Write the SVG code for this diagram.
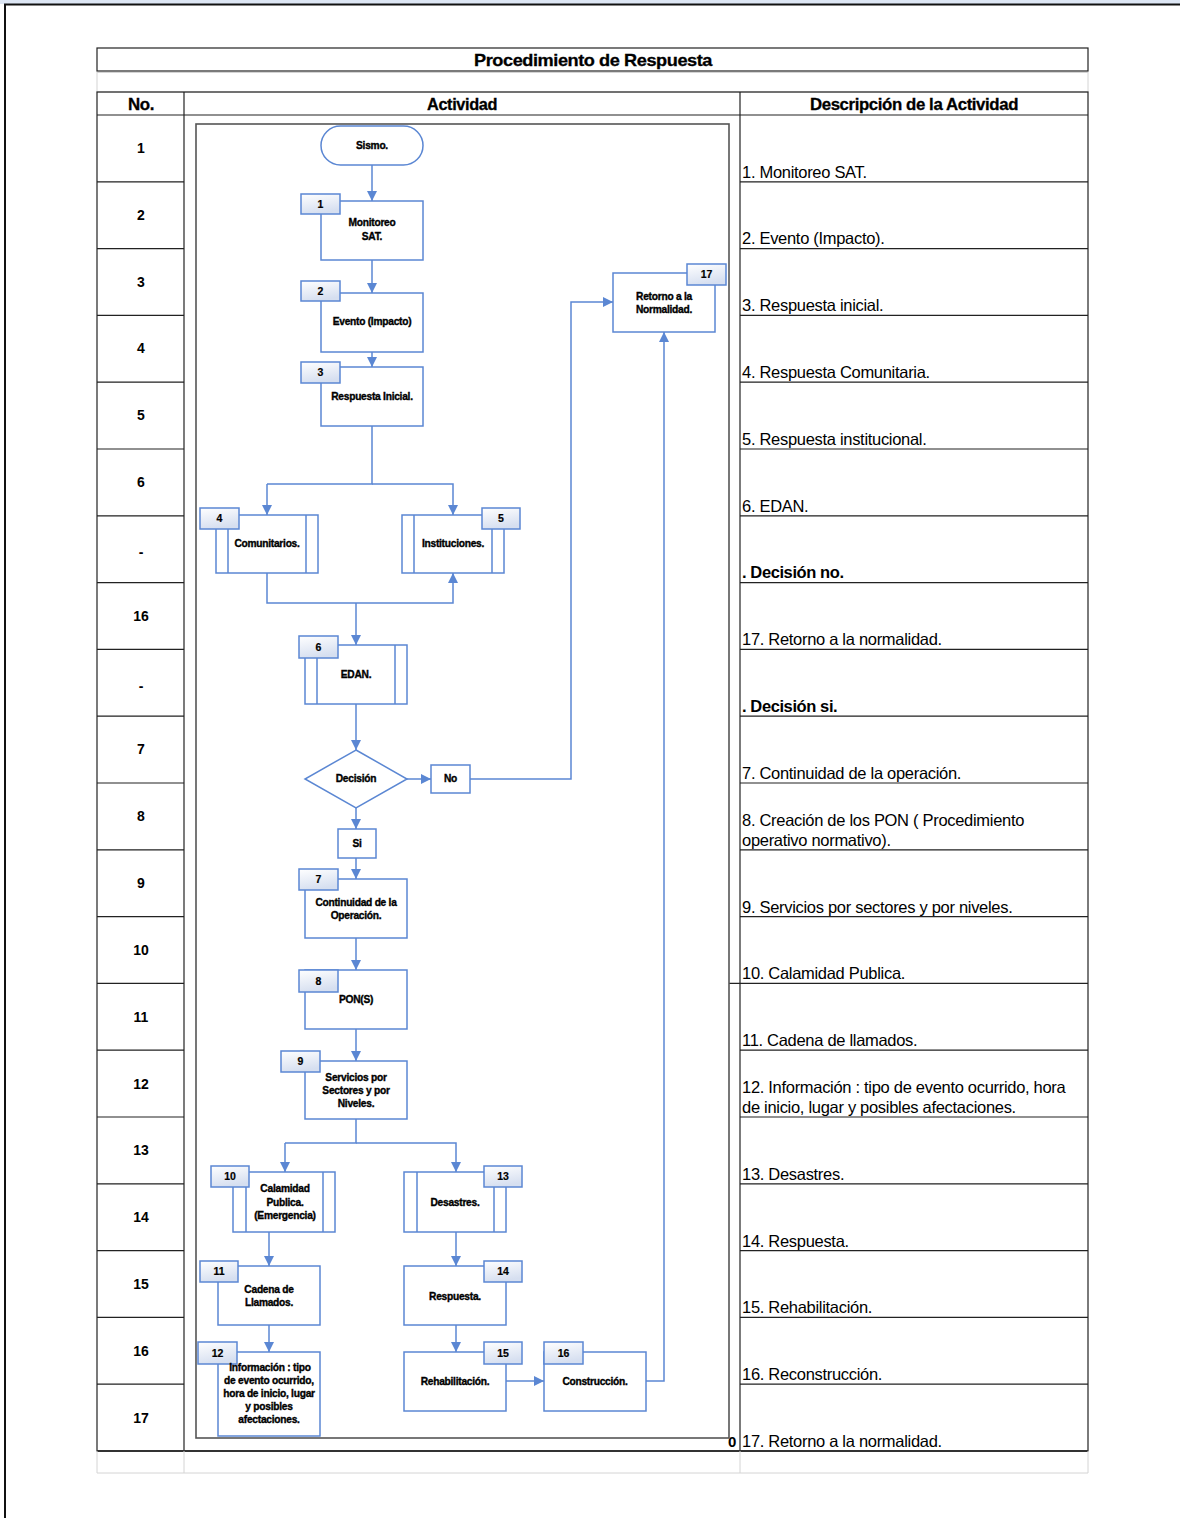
<svg xmlns="http://www.w3.org/2000/svg" width="1180" height="1518" viewBox="0 0 1180 1518">
<style>
.t{font-family:"Liberation Sans",Arial,sans-serif;fill:#000}
.hd{font-size:17px;font-weight:bold;text-anchor:middle;letter-spacing:-0.4px;stroke:#000;stroke-width:0.3}
.num{font-size:14px;font-weight:bold;text-anchor:middle}
.ds{font-size:16.5px;letter-spacing:-0.3px}
.dsb{font-size:16.5px;font-weight:bold;letter-spacing:-0.4px}
.grid{stroke:#222;stroke-width:1.2;fill:none}
.lg{stroke:#d4d4d4;stroke-width:1;fill:none}
.n{fill:#fff;stroke:#5b87d3;stroke-width:1.5}
.lb{fill:url(#g);stroke:#5b87d3;stroke-width:1.5}
.c{stroke:#5b87d3;stroke-width:1.5;fill:none}
.ft{font-family:"Liberation Sans",Arial,sans-serif;font-size:10.2px;font-weight:bold;text-anchor:middle;letter-spacing:-0.25px;fill:#000;stroke:#000;stroke-width:0.35}
.lt{font-family:"Liberation Sans",Arial,sans-serif;font-size:10.5px;font-weight:bold;text-anchor:middle;fill:#000;stroke:#000;stroke-width:0.2}
</style>
<defs>
<linearGradient id="g" x1="0" y1="0" x2="0.3" y2="1">
<stop offset="0" stop-color="#ffffff"/>
<stop offset="1" stop-color="#d6dff0"/>
</linearGradient>
<marker id="a" viewBox="0 0 10 10" refX="10" refY="5" markerWidth="10" markerHeight="10" markerUnits="userSpaceOnUse" orient="auto">
<path d="M0,0 L10,5 L0,10 z" fill="#5b87d3"/>
</marker>
</defs>
<rect x="0" y="0" width="1180" height="1518" fill="#fff"/>
<rect x="0" y="0" width="1180" height="4" fill="#dde6f4"/>
<line x1="4" y1="4.5" x2="1180" y2="4.5" stroke="#111" stroke-width="2"/>
<line x1="5" y1="4" x2="5" y2="1518" stroke="#111" stroke-width="2"/>

<g id="table">
<rect x="97" y="48" width="991" height="23" class="grid"/>
<text class="t hd" x="593" y="66" textLength="238" lengthAdjust="spacingAndGlyphs">Procedimiento de Respuesta</text>
<rect x="97" y="72.5" width="991" height="19.5" class="lg"/>
<rect x="97" y="92" width="991" height="1359" class="grid"/>
<line x1="184" y1="92" x2="184" y2="1451" class="grid"/>
<line x1="740" y1="92" x2="740" y2="1451" class="grid"/>
<line x1="97" y1="115" x2="1088" y2="115" class="grid"/>
<text class="t hd" x="141" y="109.5" textLength="26" lengthAdjust="spacingAndGlyphs">No.</text>
<text class="t hd" x="462" y="109.5" textLength="70" lengthAdjust="spacingAndGlyphs">Actividad</text>
<text class="t hd" x="914" y="109.5" textLength="208" lengthAdjust="spacingAndGlyphs">Descripción de la Actividad</text>
<path class="grid" d="M97,181.8H184M740,181.8H1088M97,248.6H184M740,248.6H1088M97,315.4H184M740,315.4H1088M97,382.2H184M740,382.2H1088M97,449H184M740,449H1088M97,515.8H184M740,515.8H1088M97,582.6H184M740,582.6H1088M97,649.4H184M740,649.4H1088M97,716.2H184M740,716.2H1088M97,783H184M740,783H1088M97,849.8H184M740,849.8H1088M97,916.6H184M740,916.6H1088M97,983.4H184M729,983.4H1088M97,1050.2H184M740,1050.2H1088M97,1117H184M740,1117H1088M97,1183.8H184M740,1183.8H1088M97,1250.6H184M740,1250.6H1088M97,1317.4H184M740,1317.4H1088M97,1384.2H184M740,1384.2H1088"/>
<line x1="97" y1="1451" x2="1088" y2="1451" stroke="#333" stroke-width="2"/>
<path class="lg" d="M97,1451V1473H1088V1451M184,1451V1473M740,1451V1473"/>
<g class="t num">
<text x="141" y="153">1</text>
<text x="141" y="220">2</text>
<text x="141" y="287">3</text>
<text x="141" y="353">4</text>
<text x="141" y="420">5</text>
<text x="141" y="487">6</text>
<text x="141" y="557">-</text>
<text x="141" y="621">16</text>
<text x="141" y="691">-</text>
<text x="141" y="754">7</text>
<text x="141" y="821">8</text>
<text x="141" y="888">9</text>
<text x="141" y="955">10</text>
<text x="141" y="1022">11</text>
<text x="141" y="1089">12</text>
<text x="141" y="1155">13</text>
<text x="141" y="1222">14</text>
<text x="141" y="1289">15</text>
<text x="141" y="1356">16</text>
<text x="141" y="1423">17</text>
</g>
<g class="t ds">
<text x="742" y="177.5">1. Monitoreo SAT.</text>
<text x="742" y="244">2. Evento (Impacto).</text>
<text x="742" y="311">3. Respuesta inicial.</text>
<text x="742" y="378">4. Respuesta Comunitaria.</text>
<text x="742" y="444.5">5. Respuesta institucional.</text>
<text x="742" y="511.5">6. EDAN.</text>
<text x="742" y="645">17. Retorno a la normalidad.</text>
<text x="742" y="778.5">7. Continuidad de la operación.</text>
<text x="742" y="825.5">8. Creación de los PON ( Procedimiento</text>
<text x="742" y="846">operativo normativo).</text>
<text x="742" y="912.5">9. Servicios por sectores y por niveles.</text>
<text x="742" y="979">10. Calamidad Publica.</text>
<text x="742" y="1046">11. Cadena de llamados.</text>
<text x="742" y="1092.5">12. Información :  tipo de evento ocurrido, hora</text>
<text x="742" y="1113">de inicio, lugar y posibles afectaciones.</text>
<text x="742" y="1179.5">13. Desastres.</text>
<text x="742" y="1246.5">14. Respuesta.</text>
<text x="742" y="1313">15. Rehabilitación.</text>
<text x="742" y="1380">16. Reconstrucción.</text>
<text x="742" y="1447">17. Retorno a la normalidad.</text>
</g>
<text class="t dsb" x="742" y="578">. Decisión no.</text>
<text class="t dsb" x="742" y="711.5">. Decisión si.</text>
<text class="t" x="728" y="1447" font-size="15" font-weight="bold">0</text>
</g>

<rect id="frame" x="196" y="124" width="533" height="1314" fill="#fff" stroke="#555" stroke-width="1.6"/>

<g id="connectors">
<path class="c" marker-end="url(#a)" d="M372,165V201"/>
<path class="c" marker-end="url(#a)" d="M372,260V293"/>
<path class="c" marker-end="url(#a)" d="M372,352V367"/>
<path class="c" d="M372,426V484H267"/>
<path class="c" marker-end="url(#a)" d="M267,484V515"/>
<path class="c" marker-end="url(#a)" d="M372,484H453V515"/>
<path class="c" marker-end="url(#a)" d="M267,573V603H453V573"/>
<path class="c" marker-end="url(#a)" d="M356,603V645"/>
<path class="c" marker-end="url(#a)" d="M356,704V750"/>
<path class="c" marker-end="url(#a)" d="M407,779H431"/>
<path class="c" marker-end="url(#a)" d="M470,779H571V302H613"/>
<path class="c" marker-end="url(#a)" d="M356,808V829"/>
<path class="c" marker-end="url(#a)" d="M356,858V879"/>
<path class="c" marker-end="url(#a)" d="M356,938V970"/>
<path class="c" marker-end="url(#a)" d="M356,1029V1061"/>
<path class="c" d="M356,1119V1143H285"/>
<path class="c" marker-end="url(#a)" d="M285,1143V1172"/>
<path class="c" marker-end="url(#a)" d="M356,1143H456V1172"/>
<path class="c" marker-end="url(#a)" d="M269,1232V1266"/>
<path class="c" marker-end="url(#a)" d="M456,1232V1266"/>
<path class="c" marker-end="url(#a)" d="M269,1325V1352"/>
<path class="c" marker-end="url(#a)" d="M456,1325V1352"/>
<path class="c" marker-end="url(#a)" d="M506,1381H544"/>
<path class="c" marker-end="url(#a)" d="M646,1381H664V332"/>
</g>

<g id="sismo">
<rect x="321" y="126" width="102" height="39" rx="19.5" class="n"/>
<text class="ft" x="372" y="149">Sismo.</text>
</g>
<g id="n1">
<rect x="321" y="201" width="102" height="59" class="n"/>
<rect x="301" y="194" width="39" height="20" class="lb"/>
<text class="lt" x="320.5" y="208">1</text>
<text class="ft" x="372" y="226">Monitoreo</text>
<text class="ft" x="372" y="240">SAT.</text>
</g>
<g id="n2">
<rect x="321" y="293" width="102" height="59" class="n"/>
<rect x="301" y="281" width="39" height="20" class="lb"/>
<text class="lt" x="320.5" y="295">2</text>
<text class="ft" x="372" y="325">Evento (Impacto)</text>
</g>
<g id="n3">
<rect x="321" y="367" width="102" height="59" class="n"/>
<rect x="301" y="362" width="39" height="21" class="lb"/>
<text class="lt" x="320.5" y="376">3</text>
<text class="ft" x="372" y="400">Respuesta Inicial.</text>
</g>
<g id="n4">
<rect x="216" y="515" width="102" height="58" class="n"/>
<path class="c" d="M228,515V573M306,515V573"/>
<rect x="200" y="508" width="39" height="21" class="lb"/>
<text class="lt" x="219.5" y="522">4</text>
<text class="ft" x="267" y="547">Comunitarios.</text>
</g>
<g id="n5">
<rect x="402" y="515" width="102" height="58" class="n"/>
<path class="c" d="M414,515V573M492,515V573"/>
<rect x="482" y="508" width="38" height="21" class="lb"/>
<text class="lt" x="501" y="522">5</text>
<text class="ft" x="453" y="547">Instituciones.</text>
</g>
<g id="n6">
<rect x="305" y="645" width="102" height="59" class="n"/>
<path class="c" d="M317,645V704M395,645V704"/>
<rect x="299" y="636" width="39" height="22" class="lb"/>
<text class="lt" x="318.5" y="651">6</text>
<text class="ft" x="356" y="678">EDAN.</text>
</g>
<g id="decision">
<path d="M356,750L407,779L356,808L305,779Z" class="n"/>
<text class="ft" x="356" y="782">Decisión</text>
</g>
<g id="no">
<rect x="431" y="765" width="39" height="28" class="n"/>
<text class="ft" x="450.5" y="782">No</text>
</g>
<g id="si">
<rect x="338" y="829" width="38" height="29" class="n"/>
<text class="ft" x="357" y="847">Si</text>
</g>
<g id="n7">
<rect x="305" y="879" width="102" height="59" class="n"/>
<rect x="299" y="869" width="39" height="21" class="lb"/>
<text class="lt" x="318.5" y="883">7</text>
<text class="ft" x="356" y="906">Continuidad de la</text>
<text class="ft" x="356" y="919">Operación.</text>
</g>
<g id="n8">
<rect x="305" y="970" width="102" height="59" class="n"/>
<rect x="299" y="970" width="39" height="22" class="lb"/>
<text class="lt" x="318.5" y="985">8</text>
<text class="ft" x="356" y="1003">PON(S)</text>
</g>
<g id="n9">
<rect x="305" y="1061" width="102" height="58" class="n"/>
<rect x="281" y="1051" width="39" height="21" class="lb"/>
<text class="lt" x="300.5" y="1065">9</text>
<text class="ft" x="356" y="1081">Servicios por</text>
<text class="ft" x="356" y="1094">Sectores y por</text>
<text class="ft" x="356" y="1107">Niveles.</text>
</g>
<g id="n10">
<rect x="233" y="1172" width="102" height="60" class="n"/>
<path class="c" d="M246,1172V1232M323,1172V1232"/>
<rect x="211" y="1166" width="38" height="21" class="lb"/>
<text class="lt" x="230" y="1180">10</text>
<text class="ft" x="285" y="1192">Calamidad</text>
<text class="ft" x="285" y="1206">Publica.</text>
<text class="ft" x="285" y="1219">(Emergencia)</text>
</g>
<g id="n11">
<rect x="218" y="1266" width="102" height="59" class="n"/>
<rect x="200" y="1261" width="38" height="21" class="lb"/>
<text class="lt" x="219" y="1275">11</text>
<text class="ft" x="269" y="1293">Cadena de</text>
<text class="ft" x="269" y="1306">Llamados.</text>
</g>
<g id="n12">
<rect x="218" y="1352" width="102" height="84" class="n"/>
<rect x="198" y="1342" width="39" height="22" class="lb"/>
<text class="lt" x="217.5" y="1357">12</text>
<text class="ft" x="270" y="1371">Información :  tipo</text>
<text class="ft" x="269" y="1384">de evento ocurrido,</text>
<text class="ft" x="269" y="1397">hora de inicio, lugar</text>
<text class="ft" x="269" y="1410">y posibles</text>
<text class="ft" x="269" y="1423">afectaciones.</text>
</g>
<g id="n13">
<rect x="404" y="1172" width="102" height="60" class="n"/>
<path class="c" d="M417,1172V1232M494,1172V1232"/>
<rect x="484" y="1166" width="38" height="21" class="lb"/>
<text class="lt" x="503" y="1180">13</text>
<text class="ft" x="455" y="1206">Desastres.</text>
</g>
<g id="n14">
<rect x="404" y="1266" width="102" height="59" class="n"/>
<rect x="484" y="1261" width="38" height="21" class="lb"/>
<text class="lt" x="503" y="1275">14</text>
<text class="ft" x="455" y="1300">Respuesta.</text>
</g>
<g id="n15">
<rect x="404" y="1352" width="102" height="59" class="n"/>
<rect x="484" y="1342" width="38" height="22" class="lb"/>
<text class="lt" x="503" y="1357">15</text>
<text class="ft" x="455" y="1385">Rehabilitación.</text>
</g>
<g id="n16">
<rect x="544" y="1352" width="102" height="59" class="n"/>
<rect x="544" y="1342" width="39" height="22" class="lb"/>
<text class="lt" x="563.5" y="1357">16</text>
<text class="ft" x="595" y="1385">Construcción.</text>
</g>
<g id="n17">
<rect x="613" y="273" width="102" height="59" class="n"/>
<rect x="687" y="264" width="39" height="21" class="lb"/>
<text class="lt" x="706.5" y="278">17</text>
<text class="ft" x="664" y="300">Retorno a la</text>
<text class="ft" x="664" y="313">Normalidad.</text>
</g>
</svg>
